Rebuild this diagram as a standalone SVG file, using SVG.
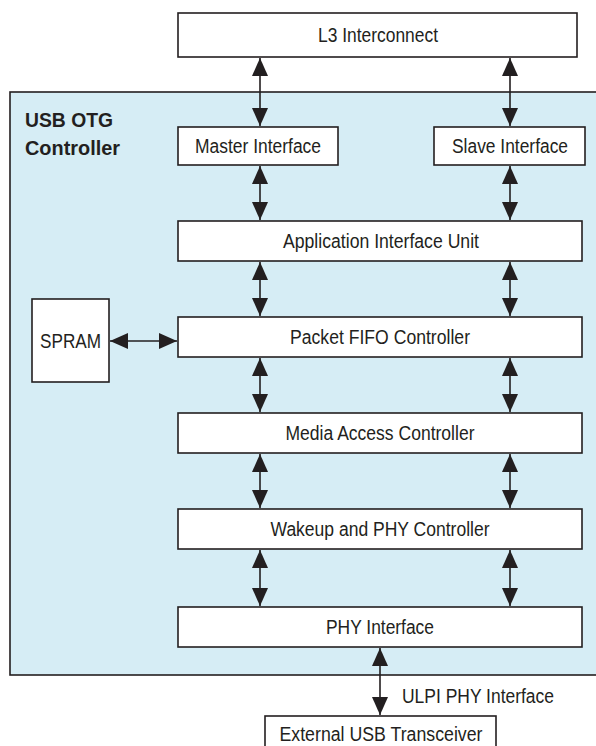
<svg xmlns="http://www.w3.org/2000/svg" width="596" height="746" viewBox="0 0 596 746">
<defs>
<marker id="ah" viewBox="0 0 18 16" refX="18" refY="8" markerWidth="18" markerHeight="16" markerUnits="userSpaceOnUse" orient="auto-start-reverse">
<path d="M0,0 L18,8 L0,16 z" fill="#231f20"/>
</marker>
<style>
.box{fill:#ffffff;stroke:#231f20;stroke-width:1.6}
.lbl{font-family:"Liberation Sans",Arial,sans-serif;font-size:19.5px;fill:#231f20;text-anchor:middle}
.ttl{font-family:"Liberation Sans",Arial,sans-serif;font-size:20.5px;font-weight:bold;fill:#231f20}
.con{stroke:#231f20;stroke-width:1.6;fill:none;marker-start:url(#ah);marker-end:url(#ah)}
</style>
</defs>
<rect width="596" height="746" fill="#ffffff"/>
<g id="usb-otg-controller">
<rect x="10" y="92" width="600" height="583" fill="#d6edf5" stroke="#231f20" stroke-width="1.6"/>
<text class="ttl" x="25" y="127" textLength="88" lengthAdjust="spacingAndGlyphs">USB OTG</text>
<text class="ttl" x="25" y="155" textLength="95" lengthAdjust="spacingAndGlyphs">Controller</text>
</g>
<g id="l3-interconnect">
<rect class="box" x="178" y="13" width="399" height="44"/>
<text class="lbl" x="378" y="42" textLength="120" lengthAdjust="spacingAndGlyphs">L3 Interconnect</text>
</g>
<g id="master-interface">
<rect class="box" x="178" y="127" width="160" height="38"/>
<text class="lbl" x="258" y="153" textLength="126" lengthAdjust="spacingAndGlyphs">Master Interface</text>
</g>
<g id="slave-interface">
<rect class="box" x="434" y="127" width="151" height="38"/>
<text class="lbl" x="510" y="153" textLength="116" lengthAdjust="spacingAndGlyphs">Slave Interface</text>
</g>
<g id="application-interface-unit">
<rect class="box" x="178" y="221" width="404" height="40"/>
<text class="lbl" x="381" y="248" textLength="196" lengthAdjust="spacingAndGlyphs">Application Interface Unit</text>
</g>
<g id="spram">
<rect class="box" x="32" y="299" width="77" height="83"/>
<text class="lbl" x="70.5" y="347.5" textLength="61" lengthAdjust="spacingAndGlyphs">SPRAM</text>
</g>
<g id="packet-fifo-controller">
<rect class="box" x="178" y="317" width="404" height="40"/>
<text class="lbl" x="380" y="344" textLength="180" lengthAdjust="spacingAndGlyphs">Packet FIFO Controller</text>
</g>
<g id="media-access-controller">
<rect class="box" x="178" y="413" width="404" height="40"/>
<text class="lbl" x="380" y="440" textLength="189" lengthAdjust="spacingAndGlyphs">Media Access Controller</text>
</g>
<g id="wakeup-phy-controller">
<rect class="box" x="178" y="509" width="404" height="40"/>
<text class="lbl" x="380" y="536" textLength="219" lengthAdjust="spacingAndGlyphs">Wakeup and PHY Controller</text>
</g>
<g id="phy-interface">
<rect class="box" x="178" y="607" width="404" height="40"/>
<text class="lbl" x="380" y="634" textLength="108" lengthAdjust="spacingAndGlyphs">PHY Interface</text>
</g>
<g id="external-usb-transceiver">
<rect class="box" x="265" y="716" width="231" height="40"/>
<text class="lbl" x="381" y="741" textLength="203" lengthAdjust="spacingAndGlyphs">External USB Transceiver</text>
</g>
<g id="connectors">
<line class="con" x1="260" y1="58" x2="260" y2="126"/>
<line class="con" x1="510" y1="58" x2="510" y2="126"/>
<line class="con" x1="260" y1="166" x2="260" y2="220"/>
<line class="con" x1="510" y1="166" x2="510" y2="220"/>
<line class="con" x1="260" y1="262" x2="260" y2="316"/>
<line class="con" x1="510" y1="262" x2="510" y2="316"/>
<line class="con" x1="260" y1="358" x2="260" y2="412"/>
<line class="con" x1="510" y1="358" x2="510" y2="412"/>
<line class="con" x1="260" y1="454" x2="260" y2="508"/>
<line class="con" x1="510" y1="454" x2="510" y2="508"/>
<line class="con" x1="260" y1="550" x2="260" y2="606"/>
<line class="con" x1="510" y1="550" x2="510" y2="606"/>
<line class="con" x1="110" y1="341" x2="177" y2="341"/>
<line class="con" x1="380" y1="648" x2="380" y2="715"/>
<text class="lbl" x="478" y="703" textLength="152" lengthAdjust="spacingAndGlyphs">ULPI PHY Interface</text>
</g>
</svg>
